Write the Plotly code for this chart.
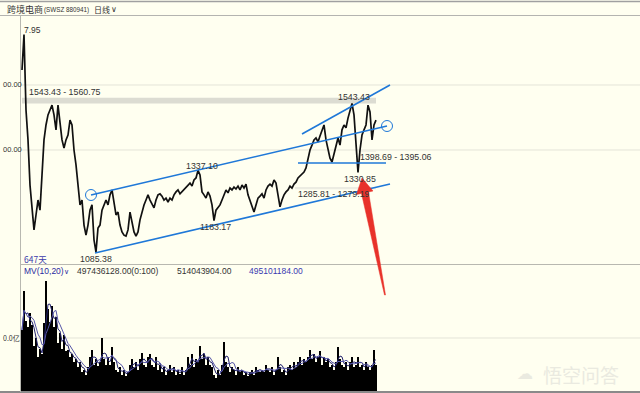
import plotly.graph_objects as go
import pandas as pd

# ---------------- data ----------------
close = [1646, 1755, 1523, 1431, 1292, 1231, 1154, 1200, 1246, 1215,
         1308, 1431, 1477, 1508, 1523, 1538, 1508, 1462, 1538, 1492,
         1431, 1406, 1431, 1446, 1492, 1477, 1400, 1354, 1292, 1231,
         1246, 1169, 1138, 1169, 1215, 1231, 1123, 1086, 1160, 1169,
         1215, 1231, 1246, 1231, 1262, 1277, 1231, 1200, 1209, 1169,
         1148, 1138, 1135, 1154, 1209, 1178, 1148, 1135, 1148, 1185,
         1209, 1231, 1246, 1262, 1246, 1231, 1222, 1246, 1262, 1265,
         1258, 1246, 1252, 1240, 1252, 1246, 1262, 1271, 1277, 1265,
         1271, 1277, 1283, 1292, 1298, 1289, 1308, 1314, 1337, 1323,
         1271, 1262, 1252, 1271, 1258, 1231, 1183, 1215, 1225, 1231,
         1246, 1262, 1277, 1268, 1283, 1277, 1286, 1280, 1289, 1277,
         1292, 1283, 1295, 1262, 1246, 1231, 1209, 1231, 1252, 1258,
         1265, 1252, 1277, 1289, 1295, 1289, 1308, 1298, 1262, 1225,
         1246, 1262, 1271, 1277, 1289, 1283, 1295, 1301, 1314, 1320,
         1323, 1332, 1345, 1375, 1400, 1415, 1431, 1437, 1425, 1443,
         1462, 1477, 1431, 1400, 1375, 1363, 1385, 1415, 1437, 1415,
         1462, 1477, 1468, 1498, 1523, 1543, 1508, 1431, 1331, 1400,
         1446, 1462, 1477, 1538, 1517, 1431, 1477, 1492]

volume_yi = [11.5, 18.9, 13.3, 12.0, 14.8, 12.5, 8.5, 10.0, 6.5, 8.0,
             7.0, 12.8, 20.7, 15.5, 13.0, 16.0, 12.0, 14.0, 9.0, 11.0,
             8.0, 10.5, 7.5, 7.8, 6.5, 7.0, 5.5, 6.0, 4.5, 5.5,
             3.5, 4.0, 3.0, 4.5, 6.5, 7.8, 5.0, 6.0, 4.8, 5.5,
             10.0, 6.0, 5.0, 6.5, 5.0, 8.3, 5.5, 4.0, 3.5, 4.6,
             3.0, 4.0, 2.8, 3.5, 5.0, 6.0, 4.5, 5.5, 4.0, 6.0,
             7.2, 5.0, 4.5, 6.5, 7.0, 5.0, 4.5, 6.5, 4.0, 5.0,
             3.5, 4.5, 3.0, 4.0, 5.0, 3.5, 4.5, 3.0, 4.0, 3.2,
             4.5, 3.0, 4.0, 6.5, 5.0, 7.0, 4.6, 6.0, 5.5, 8.5,
             6.0, 7.0, 5.0, 6.5, 5.0, 4.6, 3.0, 2.5, 4.0, 3.0,
             5.0, 9.3, 5.5, 4.5, 3.5, 4.5, 4.0, 3.0, 4.5, 3.5,
             4.0, 3.0, 3.5, 2.8, 3.5, 4.0, 3.0, 4.6, 4.0, 3.5,
             4.0, 3.5, 5.0, 4.0, 3.5, 4.5, 3.0, 4.0, 6.5, 4.5,
             3.5, 4.0, 3.0, 4.5, 5.0, 4.0, 5.5, 4.6, 5.5, 6.5,
             5.0, 6.0, 5.5, 6.5, 7.8, 6.0, 7.0, 5.5, 6.5, 7.5,
             5.0, 6.5, 5.5, 6.0, 4.6, 5.0, 4.0, 5.5, 8.3, 6.0,
             5.0, 4.6, 5.5, 4.0, 5.5, 6.5, 4.5, 5.0, 6.5, 4.6,
             5.0, 4.0, 5.5, 4.5, 4.0, 5.0, 7.8, 5.0]

price_ticks = [1600, 1400]
price_tick_text = ["00.00", "00.00"]      # as visible in the reference (left part cut)
vol_ticks = [10]
vol_tick_text = ["0.0亿"]

# drawing-tool objects (in data units: bar index, price)
upper_channel = ([34.5, 182.5], [1261.5, 1473.8])
lower_channel = ([36.5, 184.0], [1083.0, 1295.4])
wedge_top = ([140.0, 184.0], [1449.2, 1600.0])
support = ([138.0, 182.0], [1360.0, 1360.0])
bands = [(0, 177, 1543.43, 1560.75, "#dcdcd2"),
         (136.5, 177, 1279.19, 1285.81, "#ececE2"),
         (168, 177, 1395.06, 1398.69, "#ececE2")]

n = len(close)
x = list(range(n))
ma10 = pd.Series(volume_yi).rolling(3, min_periods=1).mean()
ma20 = pd.Series(volume_yi).rolling(6, min_periods=1).mean()

W, H = 640, 393
L = 21
BG = "#FFFFF0"
BLUE = "#1f78d8"


def PX(px):
    return (px - L) / (W - L)


def PY(py):
    return (H - py) / H


fig = go.Figure()
fig.add_trace(go.Scatter(x=x, y=close, mode="lines",
                         line=dict(color="#111111", width=1.7),
                         xaxis="x", yaxis="y", hoverinfo="skip"))
fig.add_trace(go.Bar(x=x, y=volume_yi, marker=dict(color="#000000", line=dict(width=0)),
                     xaxis="x", yaxis="y2", hoverinfo="skip"))
fig.add_trace(go.Scatter(x=x, y=ma10, mode="lines", line=dict(color="#24246e", width=1),
                         xaxis="x", yaxis="y2", hoverinfo="skip"))
fig.add_trace(go.Scatter(x=x, y=ma20, mode="lines", line=dict(color="#5656a8", width=1),
                         xaxis="x", yaxis="y2", hoverinfo="skip"))
fig.add_trace(go.Scatter(x=[upper_channel[0][0], upper_channel[0][1]],
                         y=[upper_channel[1][0], upper_channel[1][1]],
                         mode="markers",
                         marker=dict(symbol="circle-open", size=11, color=BLUE,
                                     line=dict(width=1, color=BLUE)),
                         xaxis="x", yaxis="y", hoverinfo="skip"))

shapes = []
for v in price_ticks:
    shapes.append(dict(type="line", xref="paper", yref="y", x0=0, x1=1, y0=v, y1=v,
                       line=dict(color="#e4e4d8", width=1), layer="below"))
for v in vol_ticks:
    shapes.append(dict(type="line", xref="paper", yref="y2", x0=0, x1=1, y0=v, y1=v,
                       line=dict(color="#e4e4d8", width=1), layer="below"))
for x0, x1, y0, y1, c in bands:
    shapes.append(dict(type="rect", xref="x", yref="y", x0=x0, x1=x1, y0=y0, y1=y1,
                       fillcolor=c, line=dict(width=0), layer="below"))
for xs, ys in [upper_channel, lower_channel, wedge_top, support]:
    shapes.append(dict(type="line", xref="x", yref="y", x0=xs[0], x1=xs[1], y0=ys[0], y1=ys[1],
                       line=dict(color=BLUE, width=1.6)))
shapes += [
    dict(type="line", xref="paper", yref="paper", x0=PX(0), x1=PX(W), y0=PY(1.5), y1=PY(1.5),
         line=dict(color="#a0a0a0", width=1.5)),
    dict(type="line", xref="paper", yref="paper", x0=PX(0), x1=PX(W), y0=PY(15.5), y1=PY(15.5),
         line=dict(color="#b4b4b0", width=1)),
    dict(type="line", xref="paper", yref="paper", x0=PX(21), x1=PX(W), y0=PY(264.5), y1=PY(264.5),
         line=dict(color="#b8b8b0", width=1)),
    dict(type="line", xref="paper", yref="paper", x0=PX(0), x1=PX(W), y0=PY(392), y1=PY(392),
         line=dict(color="#8a8a8a", width=2)),
    dict(type="line", xref="paper", yref="paper", x0=PX(20.5), x1=PX(20.5), y0=PY(16), y1=PY(392),
         line=dict(color="#b8b8b0", width=1)),
]
arrow_pts = [(362, 178), (373, 191), (368.5, 192), (385.5, 295), (384.5, 295), (361.5, 193.5), (356.5, 194.5)]
path = "M " + " L ".join(f"{PX(a):.5f},{PY(b):.5f}" for a, b in arrow_pts) + " Z"
shapes.append(dict(type="path", xref="paper", yref="paper", path=path,
                   fillcolor="#e8322a", line=dict(color="#e8322a", width=0.5)))

ann = []


def txt(s, px, py, size=8.5, color="#333333", anchor="left", font="Liberation Sans"):
    ann.append(dict(text=s, x=PX(px), y=PY(py), xref="paper", yref="paper",
                    xanchor=anchor, yanchor="middle", showarrow=False,
                    font=dict(size=size, color=color, family=font)))


# header
txt("跨境电商", 4.5, 9, size=9, color="#333333", font="Noto Sans CJK SC")
txt("(SWSZ 880941)", 42, 9.5, size=6.3, color="#333333")
txt("日线", 92, 9, size=8, color="#333333", font="Noto Sans CJK SC")
txt("∨", 109, 9, size=8, color="#333333")
# axis labels
for v, s in zip(price_ticks, price_tick_text):
    ann.append(dict(text=s, x=PX(1), y=v, xref="paper", yref="y", xanchor="left",
                    yanchor="middle", showarrow=False,
                    font=dict(size=7.5, color="#333333", family="Liberation Sans")))
for v, s in zip(vol_ticks, vol_tick_text):
    ann.append(dict(text=s, x=PX(1), y=v, xref="paper", yref="y2", xanchor="left",
                    yanchor="middle", showarrow=False,
                    font=dict(size=7, color="#333333", family="Noto Sans CJK SC")))
# price labels
txt("7.95", 21.5, 30)
txt("1543.43 - 1560.75", 27, 92.5, size=8.8)
txt("1543.43", 336, 97, size=8.8)
txt("1337.10", 184, 165.5, size=8.8)
txt("1183.17", 198, 227, size=8.8)
txt("1085.38", 78, 258.5, size=8.8)
txt("647天", 21.5, 258.5, color="#3c3caa", font="Noto Sans CJK SC", size=8.5)
txt("1398.69 - 1395.06", 358, 157, size=8.8)
txt("1330.85", 342, 178.5, size=8.8)
txt("1285.81 - 1279.19", 296, 194.5, size=8.8)
# volume header
txt("MV(10,20)", 22, 271, size=8.5, color="#2a2aa0")
txt("∨", 62, 271.5, size=7, color="#2a2aa0")
txt("497436128.00(0:100)", 75, 271, size=8.5, color="#333333")
txt("514043904.00", 175, 271, size=8.5, color="#333333")
txt("495101184.00", 247, 271, size=8.5, color="#3a3ab0")
# watermark
txt("悟空问答", 541, 374, size=19, color="#eaeae0", font="Noto Sans CJK SC")
txt("☁", 515, 373, size=16, color="#eaeae0", font="DejaVu Sans")

fig.update_layout(
    width=W, height=H,
    margin=dict(l=L, r=0, t=0, b=0),
    paper_bgcolor=BG, plot_bgcolor=BG,
    showlegend=False, bargap=0,
    xaxis=dict(range=[-0.5, (W - 22) / 2], showgrid=False, zeroline=False,
               showticklabels=False, ticks="", anchor="y2", fixedrange=True),
    yaxis=dict(domain=[PY(264), PY(17)], range=[1049.2, 1809.2], showgrid=False,
               zeroline=False, showticklabels=False, ticks="", anchor="x"),
    yaxis2=dict(domain=[PY(391), PY(265)], range=[0, 23.77], showgrid=False,
                zeroline=False, showticklabels=False, ticks="", anchor="x"),
    shapes=shapes, annotations=ann,
)

fig.write_html("out.html")
